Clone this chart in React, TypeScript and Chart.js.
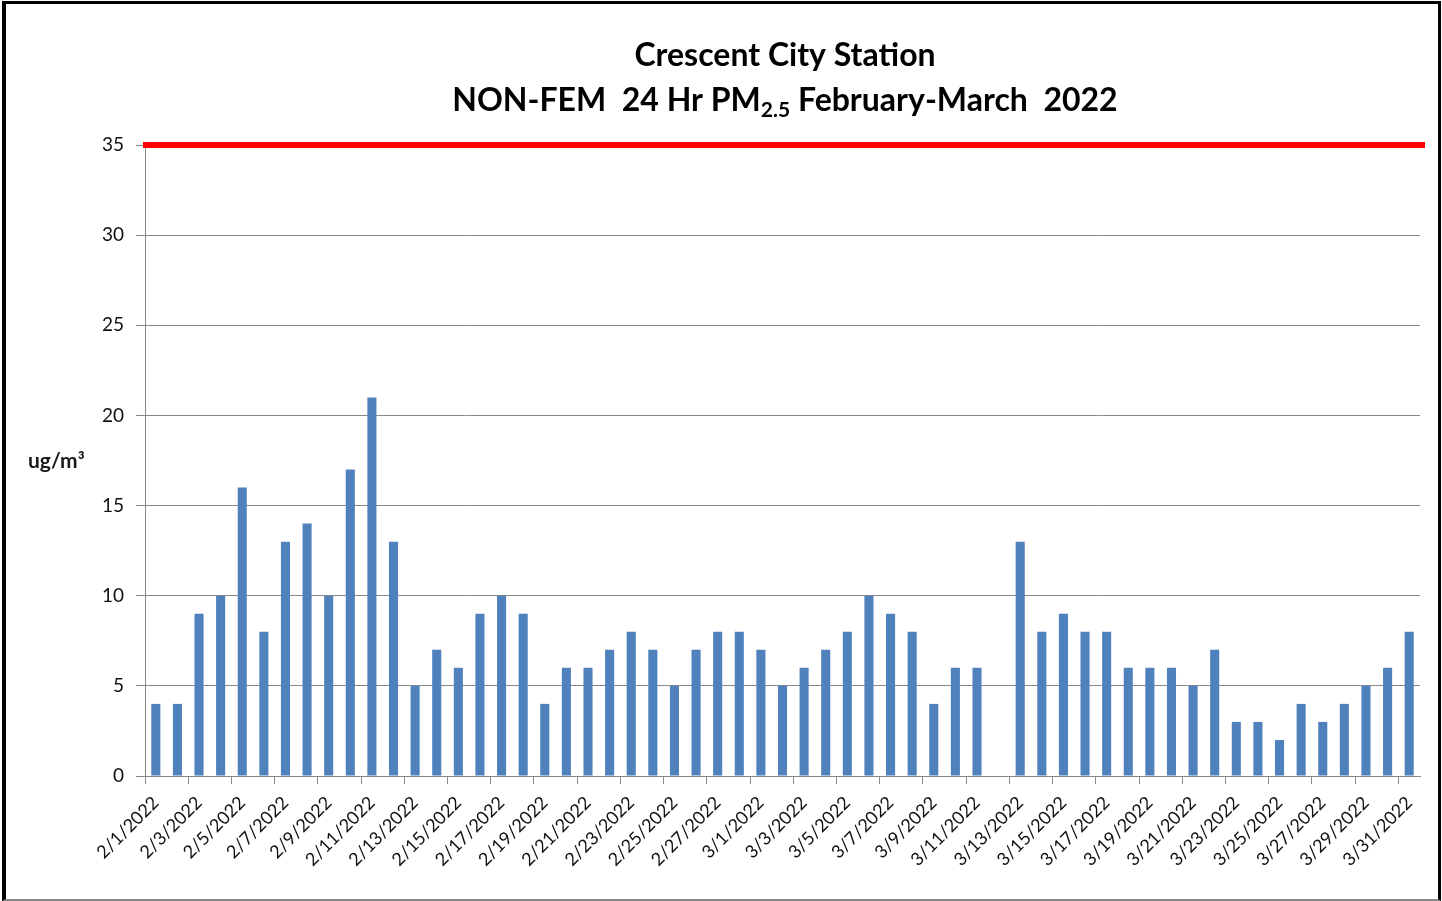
import React, { useEffect, useRef } from "react";
import { Chart, registerables } from "chart.js";

Chart.register(...registerables);

const dates: string[] = [
  "2/1/2022", "2/2/2022", "2/3/2022", "2/4/2022", "2/5/2022", "2/6/2022", "2/7/2022",
  "2/8/2022", "2/9/2022", "2/10/2022", "2/11/2022", "2/12/2022", "2/13/2022", "2/14/2022",
  "2/15/2022", "2/16/2022", "2/17/2022", "2/18/2022", "2/19/2022", "2/20/2022", "2/21/2022",
  "2/22/2022", "2/23/2022", "2/24/2022", "2/25/2022", "2/26/2022", "2/27/2022", "2/28/2022",
  "3/1/2022", "3/2/2022", "3/3/2022", "3/4/2022", "3/5/2022", "3/6/2022", "3/7/2022",
  "3/8/2022", "3/9/2022", "3/10/2022", "3/11/2022", "3/12/2022", "3/13/2022", "3/14/2022",
  "3/15/2022", "3/16/2022", "3/17/2022", "3/18/2022", "3/19/2022", "3/20/2022", "3/21/2022",
  "3/22/2022", "3/23/2022", "3/24/2022", "3/25/2022", "3/26/2022", "3/27/2022", "3/28/2022",
  "3/29/2022", "3/30/2022", "3/31/2022",
];

const pm25: (number | null)[] = [
  4, 4, 9, 10, 16, 8, 13, 14, 10, 17, 21, 13, 5, 7,
  6, 9, 10, 9, 4, 6, 6, 7, 8, 7, 5, 7, 8, 8,
  7, 5, 6, 7, 8, 10, 9, 8, 4, 6, 6, null, 13, 8,
  9, 8, 8, 6, 6, 6, 5, 7, 3, 3, 2, 4, 3, 4,
  5, 6, 8,
];

const standardLimit = 35;
const yMin = 0;
const yMax = 35;
const yStep = 5;

const titleLine1 = "Crescent City Station";
const titleLine2Pre = "NON-FEM  24 Hr PM";
const titleLine2Sub = "2.5";
const titleLine2Post = " February-March  2022";
const yUnitLabel = "ug/m³";

const FONT = "Lato, 'Open Sans', sans-serif";

const decorPlugin = {
  id: "decor",
  afterDatasetsDraw(chart: any) {
    const { ctx, chartArea, scales } = chart;
    const y = scales.y.getPixelForValue(standardLimit);
    ctx.save();
    ctx.strokeStyle = "#ff0000";
    ctx.lineWidth = 6;
    ctx.beginPath();
    ctx.moveTo(chartArea.left - 2, y);
    ctx.lineTo(chartArea.right + 5, y);
    ctx.stroke();
    ctx.restore();
  },
  afterDraw(chart: any) {
    const { ctx } = chart;
    const cx = 785;
    ctx.save();
    ctx.fillStyle = "#000";
    ctx.textBaseline = "alphabetic";
    ctx.textAlign = "left";
    ctx.font = `bold 32px ${FONT}`;
    const w1 = ctx.measureText(titleLine1).width;
    ctx.fillText(titleLine1, cx - w1 / 2, 66);

    const wPre = ctx.measureText(titleLine2Pre).width;
    const wPost = ctx.measureText(titleLine2Post).width;
    ctx.font = `bold 21px ${FONT}`;
    const wSub = ctx.measureText(titleLine2Sub).width;
    let x = cx - (wPre + wSub + wPost) / 2;
    ctx.font = `bold 32px ${FONT}`;
    ctx.fillText(titleLine2Pre, x, 111);
    x += wPre;
    ctx.font = `bold 21px ${FONT}`;
    ctx.fillText(titleLine2Sub, x, 117);
    x += wSub;
    ctx.font = `bold 32px ${FONT}`;
    ctx.fillText(titleLine2Post, x, 111);

    ctx.font = `bold 21px ${FONT}`;
    ctx.fillStyle = "#1a1a1a";
    ctx.fillText(yUnitLabel, 28, 468);
    ctx.restore();
  },
};

export default function App() {
  const canvasRef = useRef<HTMLCanvasElement | null>(null);

  useEffect(() => {
    if (!canvasRef.current) return;
    const chart = new Chart(canvasRef.current, {
      type: "bar",
      data: {
        labels: dates,
        datasets: [
          {
            label: "PM2.5",
            data: pm25,
            backgroundColor: "#4f81bd",
            borderWidth: 0,
            barPercentage: 0.42,
            categoryPercentage: 1,
          },
        ],
      },
      options: {
        responsive: false,
        animation: false,
        layout: { padding: { top: 145, right: 22, left: 0, bottom: 0 } },
        plugins: {
          legend: { display: false },
          title: { display: false },
          tooltip: { enabled: false },
        },
        scales: {
          x: {
            type: "category",
            offset: true,
            grid: {
              offset: true,
              drawOnChartArea: false,
              tickLength: 8,
              color: (c: any) => (c.index % 2 === 0 ? "#888888" : "rgba(0,0,0,0)"),
            },
            border: { color: "#888888" },
            ticks: {
              autoSkip: false,
              maxRotation: 45,
              minRotation: 45,
              padding: 8,
              color: "#111",
              font: { family: FONT, size: 18 },
              callback: (_v: any, i: number) => (i % 2 === 0 ? dates[i] : ""),
            },
            afterFit: (s: any) => {
              s.height = 125;
            },
          },
          y: {
            min: yMin,
            max: yMax,
            ticks: {
              stepSize: yStep,
              color: "#111",
              padding: 12,
              font: { family: FONT, size: 19 },
            },
            grid: { color: "#888888", tickLength: 9 },
            border: { color: "#888888" },
            afterFit: (s: any) => {
              s.width = 145;
            },
          },
        },
      },
      plugins: [decorPlugin],
    });
    return () => chart.destroy();
  }, []);

  return (
    <div>
      <canvas
        ref={canvasRef}
        width={1442}
        height={901}
        style={{ position: "absolute", left: 0, top: 0, width: 1442, height: 901, background: "#fff" }}
      />
      <div
        style={{
          position: "absolute",
          left: 2,
          top: 1,
          width: 1439,
          height: 900,
          boxSizing: "border-box",
          borderLeft: "4px solid #000",
          borderTop: "3px solid #000",
          borderRight: "3px solid #000",
          borderBottom: "2px solid #888",
          pointerEvents: "none",
        }}
      />
    </div>
  );
}
